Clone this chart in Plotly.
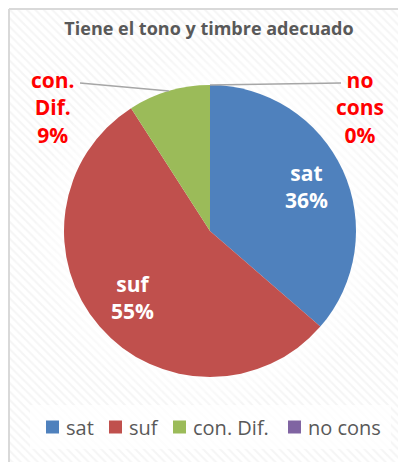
import numpy as np
import plotly.graph_objects as go

# ---- data ----
title_text = "Tiene el tono y timbre adecuado"
labels = ["sat", "suf", "con. Dif.", "no cons"]
values = [4, 6, 1, 0]
colors = ["#4f81bd", "#c0504d", "#9bbb59", "#8064a2"]

# page has an 8px body margin: figure is drawn from screen (8, 8)
OX, OY = 8, 8
FW, FH = 406 - OX, 462 - OY
CX, CY, R = 210, 231, 146  # pie centre / radius in screen px
LEG_MARK_X = [46, 109, 173, 288]  # legend layout (screen px)
LEG_Y = 427


def px(sx, sy):
    """screen px -> paper coords"""
    return (sx - OX) / FW, 1 - (sy - OY) / FH


def dxy(sx, sy):
    """screen px -> data coords of hidden axes"""
    return sx - OX, FH - (sy - OY)


fig = go.Figure()

# background panel with faint diagonal stripes
bx = [9, 399, 399, 9, 9]
by = [9, 9, 480, 480, 9]
fig.add_trace(go.Scatter(
    x=[dxy(a, b)[0] for a, b in zip(bx, by)], y=[dxy(a, b)[1] for a, b in zip(bx, by)],
    fill="toself", mode="lines", line=dict(color="#d9d9d9", width=2),
    fillcolor="#ffffff",
    fillpattern=dict(shape="\\", fgcolor="#ececec", bgcolor="#ffffff", size=6, solidity=0.35),
    hoverinfo="skip", showlegend=False))

# soft glow around pie
t = np.linspace(0, 2 * np.pi, 181)
for dr in [28, 21, 15, 10, 5]:
    rr = R + dr
    gx, gy = dxy(CX + rr * np.cos(t), CY + rr * np.sin(t))
    fig.add_trace(go.Scatter(
        x=gx, y=gy, fill="toself", mode="lines", line=dict(width=0),
        fillcolor="rgba(255,255,255,0.22)", hoverinfo="skip", showlegend=False))

# legend box
lx = [30, 391, 391, 30, 30]
ly = [405, 405, 449, 449, 405]
fig.add_trace(go.Scatter(
    x=[dxy(a, b)[0] for a, b in zip(lx, ly)], y=[dxy(a, b)[1] for a, b in zip(lx, ly)],
    fill="toself", mode="lines", line=dict(width=0),
    fillcolor="rgba(255,255,255,0.75)", hoverinfo="skip", showlegend=False))

total = sum(values)
pct = [v / total for v in values]

d0x, d0y = px(CX - R, CY + R)
d1x, d1y = px(CX + R, CY - R)
fig.add_trace(go.Pie(
    labels=labels, values=values, sort=False, direction="clockwise", rotation=0,
    marker=dict(colors=colors, line=dict(width=0)),
    textinfo="none",
    domain=dict(x=[d0x, d1x], y=[d0y, d1y]),
    hoverinfo="label+percent", showlegend=False))

cum = np.cumsum([0] + pct)
annotations = []
shapes = []

# inside labels (white)
for i, frac in [(0, 0.73), (1, 0.70)]:
    mid = (cum[i] + cum[i + 1]) / 2 * 2 * np.pi
    sx, sy = CX + frac * R * np.sin(mid), CY - frac * R * np.cos(mid)
    ax_, ay_ = px(sx, sy)
    annotations.append(dict(x=ax_, y=ay_, xref="paper", yref="paper",
                            text=f"<b>{labels[i]}<br>{pct[i]:.0%}</b>",
                            showarrow=False, xanchor="center", yanchor="middle",
                            font=dict(family="Open Sans", size=21, color="white")))

# outside labels (red) with leader lines
outside = {2: (53, 107, 80, 83), 3: (360, 107, 341, 83)}
for i, (tx, ty, lx0, ly0) in outside.items():
    mid = (cum[i] + cum[i + 1]) / 2 * 2 * np.pi
    ex, ey = CX + R * np.sin(mid), CY - R * np.cos(mid)
    txt = "<br>".join(labels[i].split(" ")) + "<br>" + f"{pct[i]:.0%}"
    ax_, ay_ = px(tx, ty)
    annotations.append(dict(x=ax_, y=ay_, xref="paper", yref="paper", text="<b>" + txt + "</b>",
                            showarrow=False, xanchor="center", yanchor="middle",
                            font=dict(family="Open Sans", size=21, color="#ff0000")))
    x0, y0 = px(lx0, ly0)
    x1, y1 = px(ex, ey)
    shapes.append(dict(type="line", xref="paper", yref="paper", x0=x0, y0=y0, x1=x1, y1=y1,
                       line=dict(color="#a6a6a6", width=1.5)))

# legend (square swatch + label)
for i, mx in enumerate(LEG_MARK_X):
    x0, y0 = px(mx, LEG_Y + 6.5)
    x1, y1 = px(mx + 13, LEG_Y - 6.5)
    shapes.append(dict(type="rect", xref="paper", yref="paper", x0=x0, y0=y0, x1=x1, y1=y1,
                       fillcolor=colors[i], line=dict(width=0)))
    ax_, ay_ = px(mx + 18, LEG_Y)
    annotations.append(dict(x=ax_, y=ay_, xref="paper", yref="paper", text=labels[i],
                            showarrow=False, xanchor="left", yanchor="middle",
                            font=dict(family="Open Sans", size=20, color="#595959")))

tx_, ty_ = px(209, 29)
fig.update_layout(
    width=FW, height=FH, margin=dict(l=0, r=0, t=0, b=0),
    paper_bgcolor="white", plot_bgcolor="rgba(0,0,0,0)",
    xaxis=dict(range=[0, FW], visible=False, fixedrange=True),
    yaxis=dict(range=[0, FH], visible=False, fixedrange=True),
    title=dict(text="<b>" + title_text + "</b>", x=tx_, y=ty_, xanchor="center", yanchor="middle",
               font=dict(family="Open Sans", size=18, color="#595959")),
    showlegend=False,
    annotations=annotations, shapes=shapes,
)

fig.write_html("out.html")
